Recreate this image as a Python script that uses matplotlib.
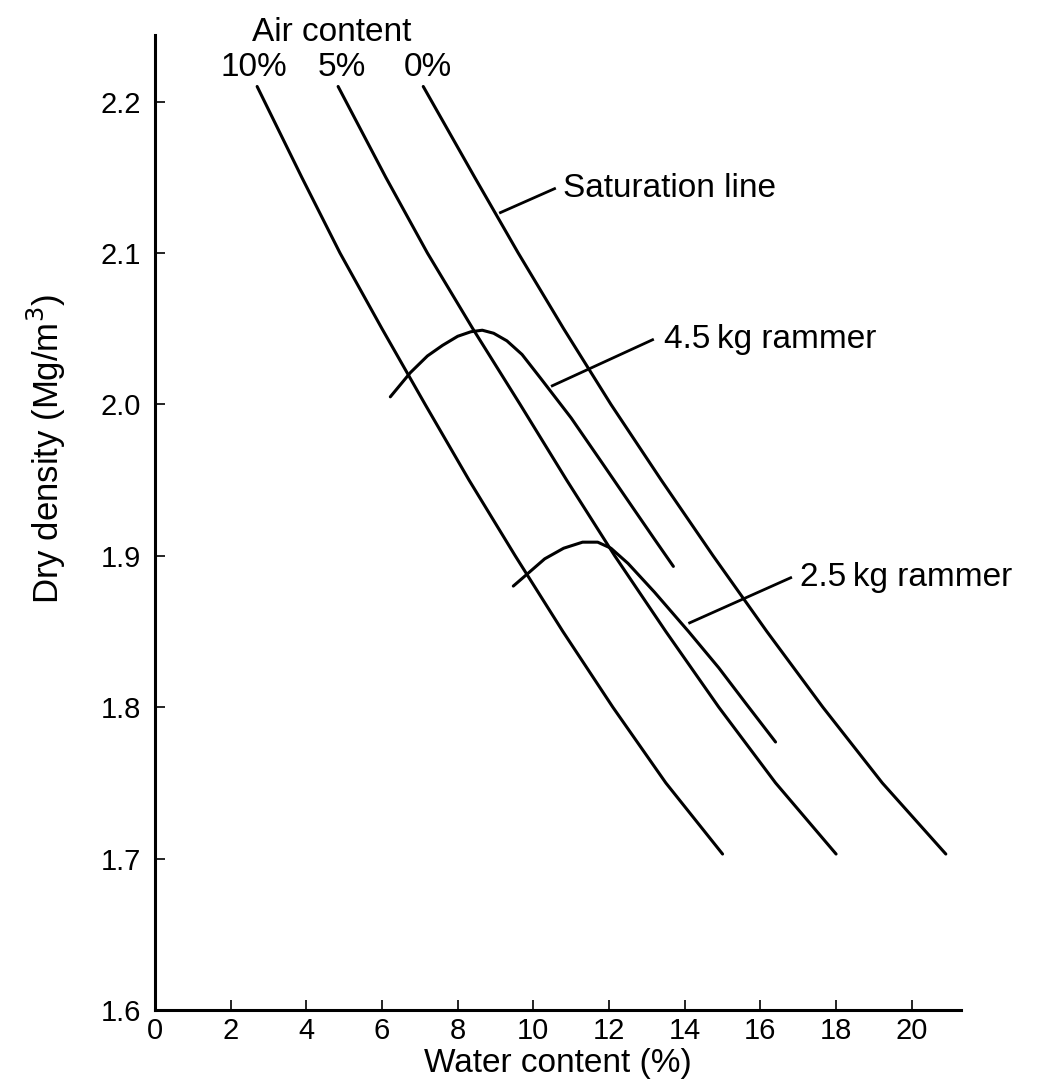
import matplotlib.pyplot as plt

plt.rcParams['font.family'] = ['Liberation Sans', 'DejaVu Sans']

# dry density levels at which the air content lines were read
rho_levels = [2.21, 2.15, 2.10, 2.05, 2.00, 1.95, 1.90, 1.85, 1.80, 1.75, 1.703]
# water content (%) of each air content line at those densities
air0_w = [7.09, 8.45, 9.6, 10.8, 12.05, 13.38, 14.75, 16.17, 17.65, 19.22, 20.9]
air5_w = [4.84, 6.1, 7.2, 8.4, 9.65, 10.88, 12.15, 13.5, 14.9, 16.4, 18.0]
air10_w = [2.7, 3.88, 4.89, 6.0, 7.14, 8.3, 9.52, 10.78, 12.1, 13.5, 15.0]

# compaction curves
r45_w = [6.22, 6.75, 7.2, 7.6, 8.0, 8.35, 8.65, 8.95, 9.3, 9.7, 10.2, 11.0, 11.8, 12.65, 13.2, 13.7]
r45_rho = [2.005, 2.021, 2.032, 2.039, 2.045, 2.048, 2.049, 2.047, 2.042, 2.033, 2.017, 1.991,
           1.962, 1.931, 1.911, 1.893]
r25_w = [9.47, 9.84, 10.3, 10.8, 11.3, 11.7, 12.05, 12.5, 13.2, 14.1, 14.9, 15.6, 16.4]
r25_rho = [1.880, 1.888, 1.898, 1.905, 1.909, 1.909, 1.905, 1.895, 1.876, 1.850, 1.826, 1.803, 1.777]

xticks = [0, 2, 4, 6, 8, 10, 12, 14, 16, 18, 20]
yticks = [1.6, 1.7, 1.8, 1.9, 2.0, 2.1, 2.2]

fig = plt.figure(figsize=(10.4, 10.84), dpi=100)
ax = fig.add_axes([0.149, 0.0683, 0.775, 0.8994])

lw = 2.2
for w in [air0_w, air5_w, air10_w]:
    ax.plot(w, rho_levels, color='black', lw=lw, solid_capstyle='round', solid_joinstyle='round')
for w, r in [(r45_w, r45_rho), (r25_w, r25_rho)]:
    ax.plot(w, r, color='black', lw=lw, solid_capstyle='round', solid_joinstyle='round')

ax.set_xlim(0, 21.3)
ax.set_ylim(1.6, 2.244)
ax.set_xticks(xticks)
ax.set_yticks(yticks)
ax.set_xticklabels([str(t) for t in xticks])
ax.set_yticklabels(['%.1f' % t for t in yticks])
ax.tick_params(direction='in', length=7, width=1.2, labelsize=21)
ax.tick_params(axis='y', pad=10)
ax.tick_params(axis='x', pad=5)
for s in ['top', 'right']:
    ax.spines[s].set_visible(False)
for s in ['left', 'bottom']:
    ax.spines[s].set_linewidth(2.2)

ax.set_xlabel('Water content (%)', fontsize=24, labelpad=2)
ax.set_ylabel('Dry density (Mg/m$^3$)', fontsize=25)
ax.yaxis.set_label_coords(-0.108, 0.576)

# labels
ax.text(4.66, 2.2457, 'Air content', fontsize=24, ha='center', va='center', clip_on=False)
for x, s in [(2.62, '10%'), (4.95, '5%'), (7.22, '0%')]:
    ax.text(x, 2.2226, s, fontsize=24, ha='center', va='center', clip_on=False)

# leader lines and their labels
leaders = [((9.13, 10.56), (2.1267, 2.1425), 10.79, 'Saturation line'),
           ((10.50, 13.15), (2.0123, 2.0427), 13.44, '4.5\u2009kg rammer'),
           ((14.13, 16.80), (1.8557, 1.8855), 17.04, '2.5\u2009kg rammer')]
for xs, ys, tx, label in leaders:
    ax.plot(xs, ys, color='black', lw=2.0)
    ax.text(tx, ys[1], label, fontsize=24, ha='left', va='center')

fig.savefig('out.png', dpi=100)
